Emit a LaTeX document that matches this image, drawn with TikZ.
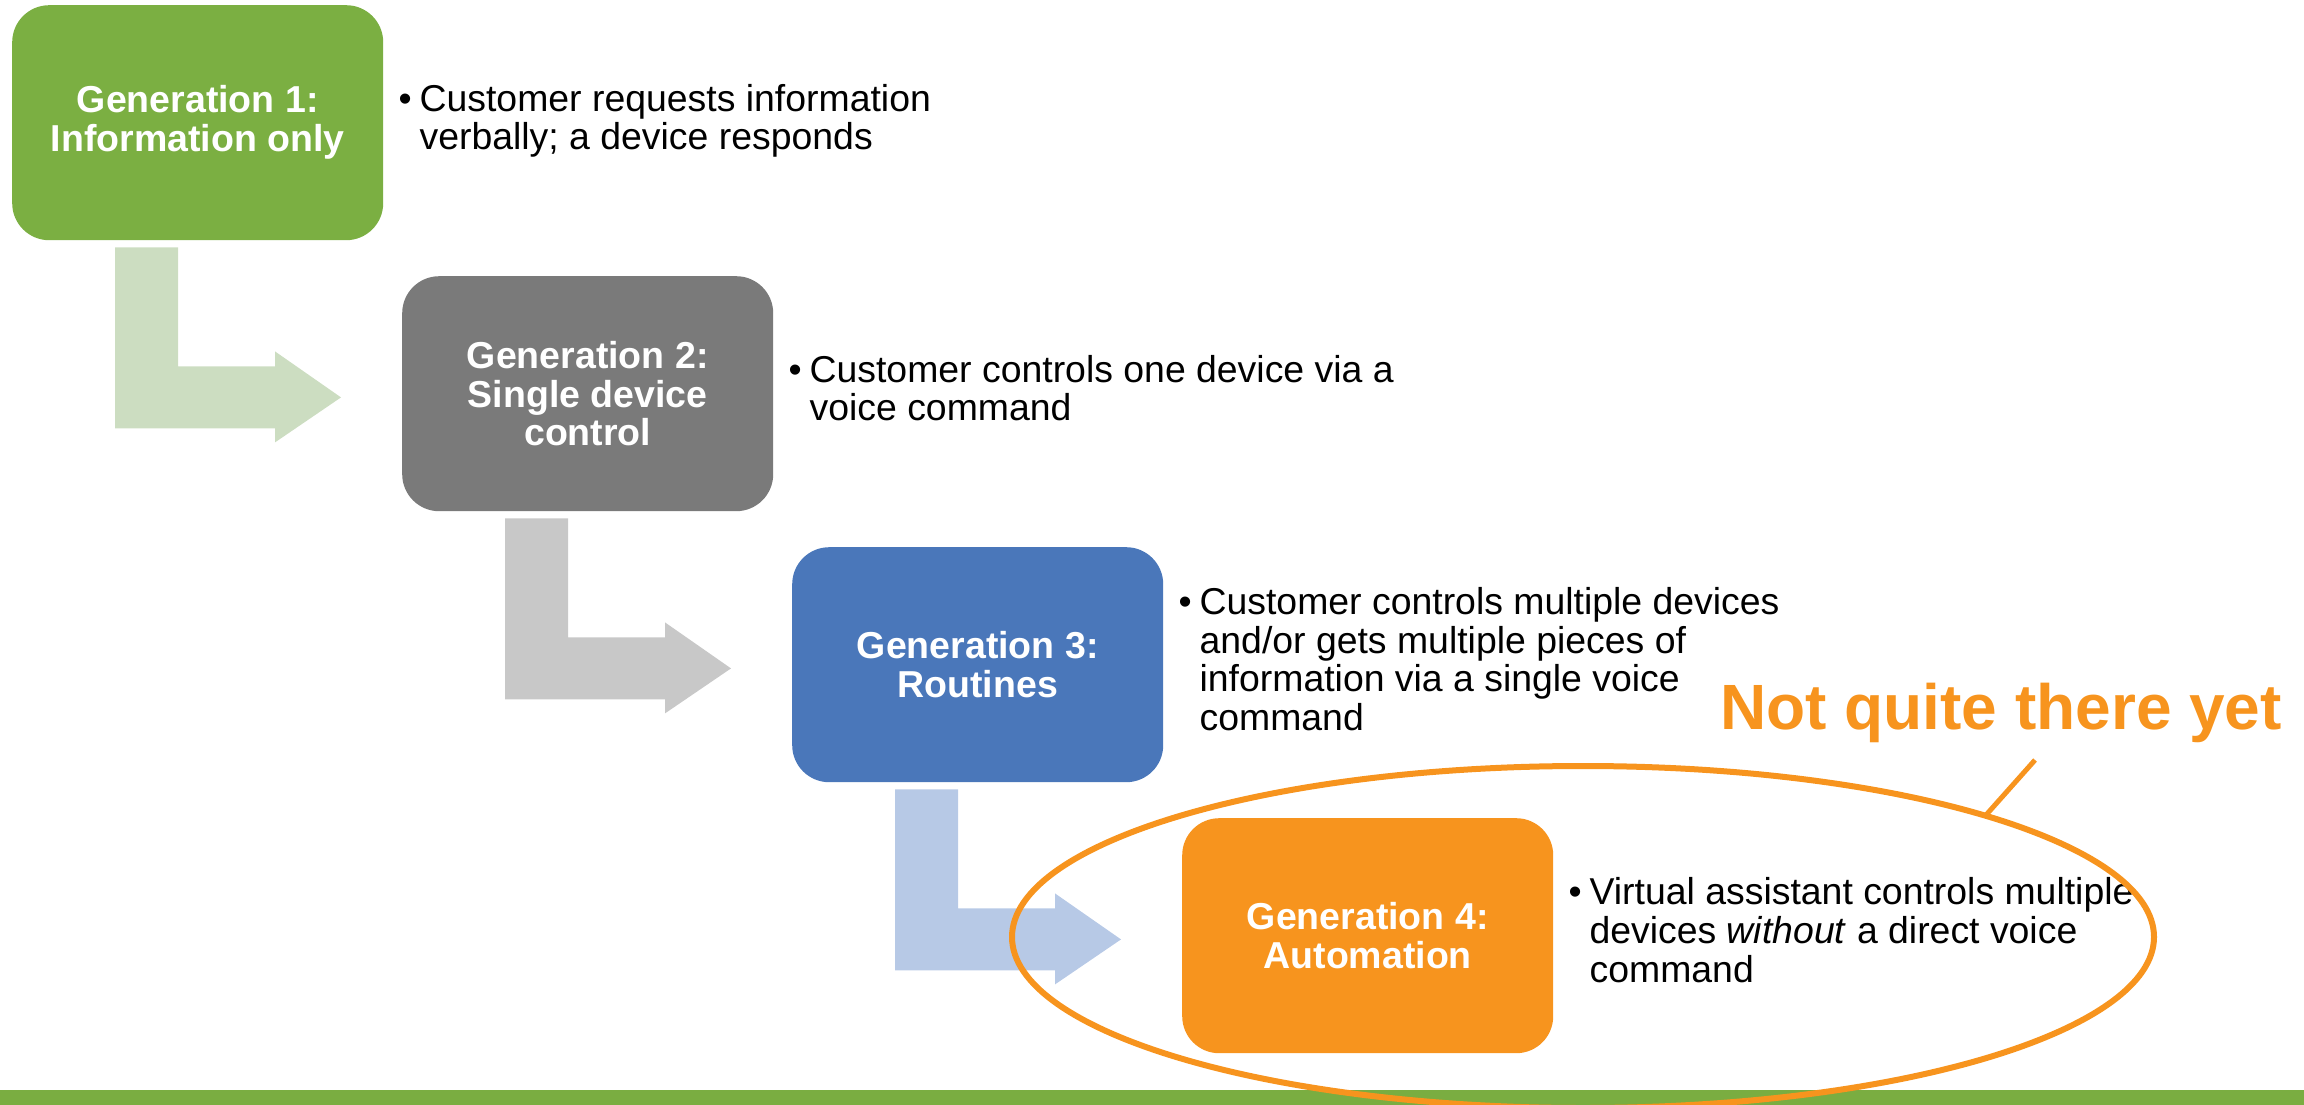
\documentclass[tikz,border=0pt]{standalone}
\usepackage{fontspec}
\setmainfont{Liberation Sans}
\usetikzlibrary{calc}

\definecolor{genGreen}{HTML}{7BAF42}
\definecolor{genGreenLight}{HTML}{CCDDC1}
\definecolor{genGrey}{HTML}{7A7A7A}
\definecolor{genGreyLight}{HTML}{C8C8C8}
\definecolor{genBlue}{HTML}{4A77BA}
\definecolor{genBlueLight}{HTML}{B7C9E6}
\definecolor{genOrange}{HTML}{F7941E}
\definecolor{barGreen}{HTML}{7AAD41}

\begin{document}
\begin{tikzpicture}[x=1pt,y=-1pt,
  genbox/.style={rectangle, rounded corners=37pt, minimum width=371pt,
    minimum height=235pt, inner sep=0pt, anchor=north west, text=white,
    font=\fontsize{37.5}{38.8}\selectfont\bfseries, align=center},
  bullettext/.style={anchor=west, inner sep=0pt, text=black,
    font=\fontsize{37.4}{38.3}\selectfont}
]
\useasboundingbox (0,0) rectangle (2304,1105);

% generation boxes
\node[genbox, fill=genGreen]  (g1) at (12,5)    {Generation 1:\\Information only};
\node[genbox, fill=genGrey]   (g2) at (402,276) {Generation 2:\\Single device\\control};
\node[genbox, fill=genBlue]   (g3) at (792,547) {Generation 3:\\Routines};
\node[genbox, fill=genOrange] (g4) at (1182,818) {Generation 4:\\Automation};

% bent block arrows leading from one box down to the next
\foreach \src/\col in {g1/genGreenLight, g2/genGreyLight, g3/genBlueLight}{
  \begin{scope}[shift={(\src.south west)}]
    \fill[\col] (103,7) -- (166,7) -- (166,126) -- (263,126) -- (263,111)
      -- (329,157) -- (263,202) -- (263,188) -- (103,188) -- cycle;
  \end{scope}
}

% bullet descriptions
\node[bullettext] (t1) at ($(g1.east)+(15,0)$) {%
  \begin{tabular}{@{}p{21pt}@{}l@{}}
  \textbullet & Customer requests information\\
              & verbally; a device responds
  \end{tabular}};
\node[bullettext] (t2) at ($(g2.east)+(15,0)$) {%
  \begin{tabular}{@{}p{21pt}@{}l@{}}
  \textbullet & Customer controls one device via a\\
              & voice command
  \end{tabular}};
\node[bullettext] (t3) at ($(g3.east)+(15,0)$) {%
  \begin{tabular}{@{}p{21pt}@{}l@{}}
  \textbullet & Customer controls multiple devices\\
              & and/or gets multiple pieces of\\
              & information via a single voice\\
              & command
  \end{tabular}};
\node[bullettext] (t4) at ($(g4.east)+(15,0)$) {%
  \begin{tabular}{@{}p{21pt}@{}l@{}}
  \textbullet & Virtual assistant controls multiple\\
              & devices \textit{without} a direct voice\\
              & command
  \end{tabular}};

% footer band
\fill[barGreen] (0,1090) rectangle (2304,1105);

% highlight around generation 4
\draw[genOrange, line width=6pt] (1583,937) ellipse [x radius=571, y radius=171];

% callout
\node[anchor=base, text=genOrange, font=\fontsize{64}{70}\selectfont\bfseries]
  (note) at (2001,729) {Not quite there yet};
\coordinate (noteTail) at (2035,760);
\coordinate (ringPoint) at (1986,815);
\draw[genOrange, line width=5pt] (noteTail) -- (ringPoint);
\end{tikzpicture}
\end{document}
